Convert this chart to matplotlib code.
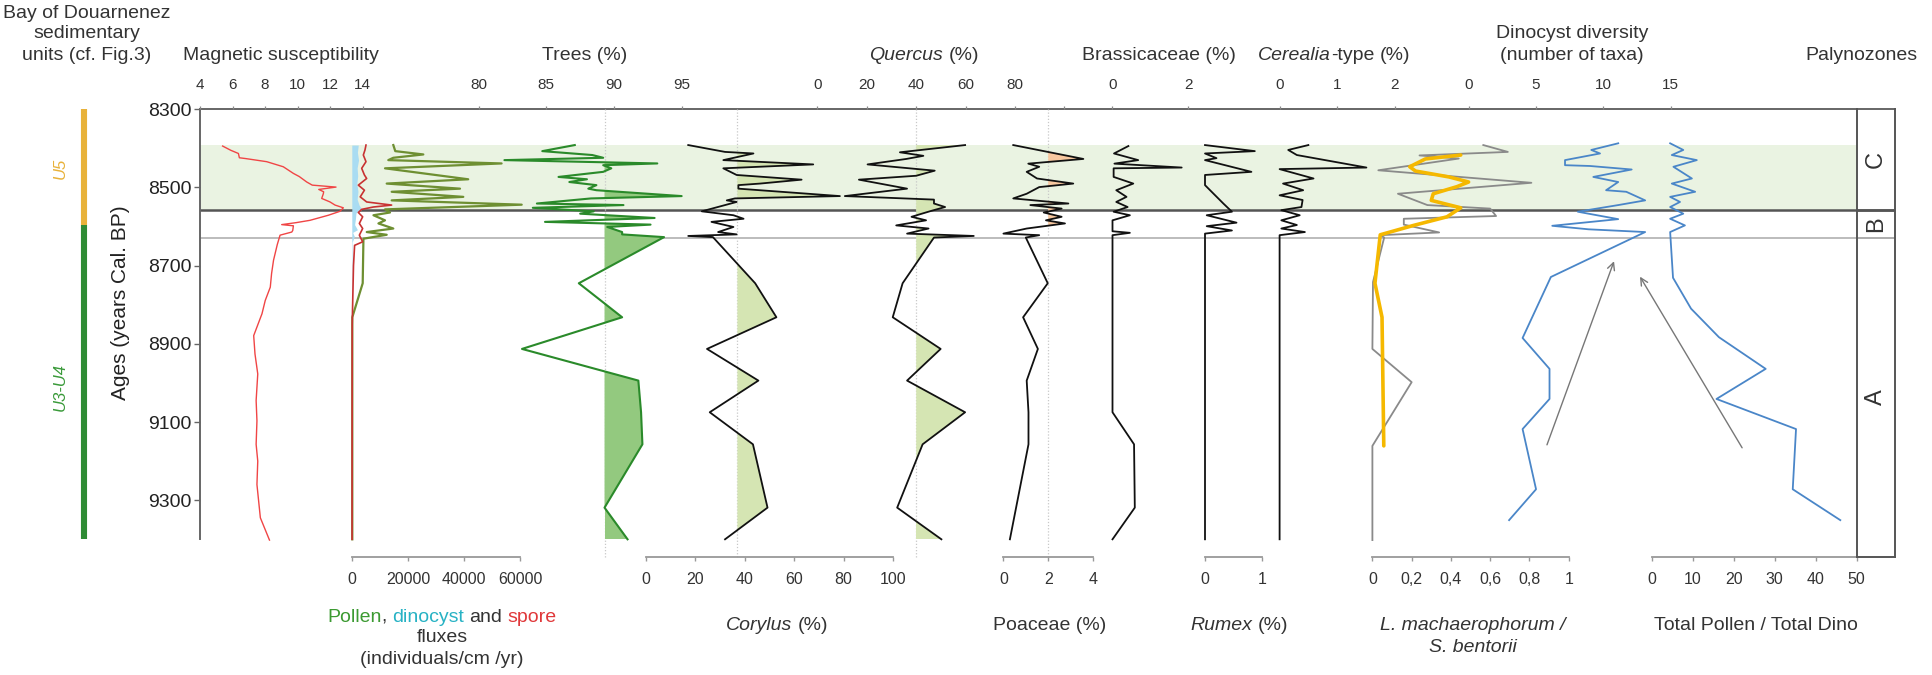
import matplotlib
matplotlib.use("Agg")
import matplotlib.pyplot as plt
from matplotlib import font_manager as fm

# ======================= DATA =======================
AGE_MIN, AGE_MAX = 8300, 9400
age_ticks = [8300, 8500, 8700, 8900, 9100, 9300]
zone_top, zone_CB, zone_BA = 8391, 8558, 8628          # palynozone limits
palynozones = ["C", "B", "A"]
unit_names = ["U5", "U3-U4"]
unit_limits = [8300, 8597, 9400]

mag_age = [8394, 8405, 8413, 8424, 8426, 8434, 8447, 8464, 8472, 8486, 8494, 8499, 8505, 8511, 8516,
           8528, 8537, 8545, 8552, 8561, 8571, 8584, 8590, 8595, 8598, 8610, 8614, 8622, 8646, 8686,
           8720, 8755, 8789, 8823, 8857, 8879, 8926, 8977, 9045, 9097, 9157, 9200, 9260, 9345, 9402]
mag_val = [5.39, 5.9, 6.36, 6.42, 6.8, 8.1, 9.12, 9.74, 10.1, 10.56, 10.9, 12.36, 11.3, 11.6, 11.58,
           11.48, 11.99, 12.3, 12.81, 12.6, 11.89, 10.76, 9.9, 9.02, 9.74, 9.7, 9.64, 8.92, 8.75, 8.52,
           8.40, 8.32, 8.01, 7.81, 7.5, 7.30, 7.38, 7.55, 7.45, 7.5, 7.45, 7.55, 7.5, 7.71, 8.27]

pol_flux_age = [8391.5, 8407, 8415.5, 8424, 8430, 8438.5, 8451, 8479, 8490, 8503, 8511, 8524, 8533,
                8544, 8556, 8564, 8571, 8584, 8592, 8605, 8614, 8621, 8631, 8745, 8832, 9400]
pol_flux = [14800, 15500, 25500, 14800, 13000, 53400, 11840, 41500, 12440, 38570, 14220, 39750, 14220,
            60570, 11840, 13620, 7710, 11840, 9490, 14800, 5330, 12440, 4150, 3886, 180, 180]
spore_age = [8391.5, 8404, 8417, 8434, 8451, 8468, 8477, 8494, 8507, 8524, 8537, 8545, 8550, 8556,
             8564, 8575, 8592, 8605, 8622, 8639, 8648, 8700, 8850, 9400]
spore_flux = [5060, 4700, 4110, 5060, 3520, 4500, 5300, 2330, 4500, 3000, 5300, 14200, 7650, 3520,
              2330, 3870, 2690, 3870, 2690, 3870, 1000, 600, 150, 100]
dino_flux_age = [8391.5, 8410, 8430, 8450, 8470, 8490, 8510, 8530, 8545, 8556, 8565, 8580, 8595,
                 8608, 8615, 8625, 8640, 9400]
dino_flux = [2300, 2000, 2400, 1900, 2100, 1800, 2200, 1900, 2600, 3600, 1500, 1300, 1000,
             2000, 300, 900, 150, 100]

trees_age = [8391.5, 8407, 8417, 8424, 8430, 8438.5, 8443, 8451, 8460, 8473, 8479, 8486, 8494, 8503,
             8507, 8522, 8528, 8541, 8545, 8552, 8561, 8567, 8578, 8588, 8595, 8601, 8614, 8620,
             8627, 8745, 8832, 8913, 8994, 9075, 9157, 9319, 9400]
trees = [87.1, 84.7, 88.4, 89.2, 81.9, 93.2, 89.2, 89.8, 89.2, 85.9, 88.0, 86.7, 88.7, 88.1,
         88.7, 95.0, 88.3, 84.3, 90.7, 84.0, 88.5, 87.5, 93.0, 84.9, 92.7, 89.5, 90.6, 90.6,
         93.7, 87.4, 90.6, 83.2, 91.8, 92.0, 92.1, 89.3, 91.0]
trees_base = 89.3

corylus_age = [8391.5, 8409, 8413, 8430, 8441, 8451, 8468, 8480, 8490, 8494, 8503, 8522, 8528, 8533,
               8537, 8561, 8571, 8580, 8588, 8601, 8614, 8620, 8624, 8627, 8745, 8832, 8913, 8994,
               9075, 9157, 9319, 9400]
corylus = [17.1, 32.0, 43.5, 31.3, 67.7, 31.3, 36.7, 63.0, 46.2, 37.4, 37.4, 78.5, 36.0, 32.7,
           36.7, 22.6, 35.4, 39.5, 26.5, 35.4, 29.2, 36.7, 17.1, 27.1, 44.2, 52.8, 24.7, 45.5,
           25.8, 43.3, 49.2, 32.0]
corylus_base = 37

quercus_age = [8391.5, 8410, 8419, 8427, 8441, 8457, 8470, 8480, 8503, 8522, 8531, 8541, 8550, 8560,
               8575, 8584, 8597, 8605, 8618, 8624, 8628, 8745, 8832, 8913, 8994, 9075, 9157, 9319, 9400]
quercus = [59.8, 33.4, 42.9, 36.0, 20.3, 47.5, 40.0, 16.8, 36.3, 11.1, 47.2, 47.2, 51.7, 46.0,
           38.1, 44.0, 31.9, 45.0, 36.3, 63.3, 47.2, 34.5, 30.5, 49.9, 36.3, 59.8, 42.6, 32.3, 50.2]
quercus_base = 40

poaceae_age = [8391.5, 8427, 8439, 8447, 8460, 8477, 8490, 8499, 8516, 8528, 8541, 8545, 8554, 8564,
               8575, 8584, 8592, 8605, 8618, 8622, 8628, 8745, 8832, 8913, 8994, 9075, 9157, 9400]
poaceae = [0.44, 3.57, 1.11, 1.6, 1.04, 1.5, 3.12, 1.6, 1.04, 0.44, 2.9, 1.2, 2.6, 1.8,
           2.6, 1.9, 2.75, 1.04, 0.0, 1.6, 1.0, 1.98, 0.88, 1.54, 1.04, 1.12, 1.12, 0.29]
poaceae_base = 2

brass_age = [8394, 8413, 8430, 8439, 8449, 8451, 8473, 8490, 8507, 8524, 8537, 8550, 8562, 8571,
             8584, 8612, 8616, 8622, 9075, 9157, 9319, 9400]
brass = [0.42, 0.04, 0.68, 0.05, 1.83, 0.03, 0.03, 0.55, 0.1, 0.37, 0.1, 0.4, 0.03, 0.46,
         0.0, 0.0, 0.46, 0.0, 0.0, 0.57, 0.59, 0.0]

rumex_age = [8391.5, 8407, 8413, 8425, 8430, 8460, 8468, 8494, 8541, 8562, 8571, 8590, 8599, 8610, 8618, 9400]
rumex = [0.0, 0.87, 0.0, 0.2, 0.0, 0.81, 0.0, 0.0, 0.32, 0.47, 0.03, 0.55, 0.03, 0.47, 0.0, 0.0]

cereal_age = [8391.5, 8404, 8417, 8449, 8453, 8477, 8490, 8507, 8520, 8532, 8550, 8558, 8571, 8584,
              8596, 8605, 8614, 8622, 9400]
cereal = [0.5, 0.15, 0.3, 1.51, 0.0, 0.59, 0.06, 0.41, 0.0, 0.4, 0.38, 0.03, 0.35, 0.03,
          0.3, 0.03, 0.44, 0.0, 0.0]

lm_age = [8391.5, 8409, 8418, 8426, 8456, 8488, 8516, 8545, 8554, 8573, 8580, 8595, 8615, 8622,
          8628, 8742, 8913, 8998, 9161, 9402]
lm_ratio = [0.565, 0.69, 0.24, 0.44, 0.03, 0.81, 0.13, 0.28, 0.6, 0.63, 0.16, 0.16, 0.34, 0.04,
            0.06, 0.003, 0.0, 0.2, 0.0, 0.0]
lm_smooth_age = [8417, 8427, 8447, 8458, 8473, 8486, 8498, 8516, 8533, 8552, 8575, 8597, 8621, 8745, 8832, 9161]
lm_smooth = [0.45, 0.27, 0.19, 0.22, 0.39, 0.49, 0.43, 0.31, 0.3, 0.45, 0.38, 0.21, 0.04, 0.013, 0.049, 0.058]

div_age = [8387, 8404, 8413, 8430, 8443, 8445, 8454, 8473, 8486, 8507, 8511, 8533, 8545, 8562, 8581,
           8598, 8607, 8614, 8729, 8885, 8964, 9041, 9118, 9272, 9351]
div_taxa = [11.1, 9.1, 9.75, 7.15, 7.15, 9.0, 12.1, 9.25, 11.1, 10.2, 11.7, 13.1, 11.1, 8.1, 11.1,
            6.2, 8.9, 13.1, 6.1, 4.0, 6.0, 6.0, 4.0, 5.0, 3.0]

tp_age = [8387, 8404, 8417, 8430, 8447, 8477, 8490, 8511, 8524, 8537, 8550, 8567, 8580, 8597, 8614,
          8731, 8810, 8883, 8964, 9041, 9118, 9272, 9351]
tp_ratio = [4.5, 7.7, 4.9, 11.0, 5.3, 9.8, 4.9, 10.6, 4.5, 6.9, 4.5, 7.7, 4.5, 8.1, 4.5,
            5.2, 9.6, 16.4, 27.8, 15.8, 35.2, 34.4, 46.0]

# annotation arrows (value, age) start -> end
arrow_div = [(5.74, 9165), (10.86, 8682)]
arrow_tp = [(22.4, 9172), (-3.2, 8722)]

# tick labels
mag_ticks = [4, 6, 8, 10, 12, 14]
trees_ticks = [80, 85, 90, 95]
quercus_ticks = [0, 20, 40, 60, 80, 100]
quercus_labels = ["0", "20", "40", "60", "80", ""]
brass_ticks = [0, 2]
cereal_ticks = [0, 1, 2]
div_ticks = [0, 5, 10, 15]
flux_ticks = [0, 20000, 40000, 60000]
corylus_ticks = [0, 20, 40, 60, 80, 100]
poaceae_ticks = [0, 2, 4]
rumex_ticks = [0, 1]
lm_ticks = [0, 0.2, 0.4, 0.6, 0.8, 1.0]
lm_labels = ["0", "0,2", "0,4", "0,6", "0,8", "1"]
tp_ticks = [0, 10, 20, 30, 40, 50]

# ======================= LAYOUT =======================
W, H, DPI = 1933, 675, 100
Y_TOP, Y_BOT = 109.3, 539.3
Y_BAX = 556.7
PPY = (Y_BOT - Y_TOP) / (AGE_MAX - AGE_MIN)


def font_ok(name):
    try:
        fm.findfont(fm.FontProperties(family=name), fallback_to_default=False)
        return True
    except Exception:
        return False


SANS = "Liberation Sans" if font_ok("Liberation Sans") else "DejaVu Sans"
NARROW = "Liberation Sans Narrow" if font_ok("Liberation Sans Narrow") else SANS
plt.rcParams["font.family"] = [SANS, "DejaVu Sans"]
TXT = "#333333"
TOP_FS = 12 if NARROW != SANS else 11
BOT_FS = 13 if NARROW != SANS else 11.5

fig = plt.figure(figsize=(W / DPI, H / DPI), dpi=DPI)
R = fig.canvas.get_renderer()


def px_axes(x0, x1, y0, y1):
    ax = fig.add_axes([x0 / W, 1 - y1 / H, (x1 - x0) / W, (y1 - y0) / H])
    ax.patch.set_alpha(0)
    return ax


def age_at(py):
    return AGE_MIN + (py - Y_TOP) / PPY


# frame / age axis
axf = px_axes(200, 1895, Y_TOP, Y_BOT)
axf.set_xlim(0, 1)
axf.set_ylim(AGE_MAX, AGE_MIN)
axf.spines["right"].set_visible(False)
axf.spines["bottom"].set_visible(False)
for k in ["top", "left"]:
    axf.spines[k].set_color("#666666")
    axf.spines[k].set_linewidth(1.4)
axf.set_xticks([])
axf.set_yticks(age_ticks)
axf.set_yticklabels([str(a) for a in age_ticks], fontsize=14, color="#222222")
axf.tick_params(axis="y", direction="out", length=4, width=1, color="#666666", pad=2)
band_xmax = (1857 - 200) / (1895 - 200)
axf.axhspan(zone_top, zone_CB, xmin=0, xmax=band_xmax, color="#eaf3e2", lw=0, zorder=0)
axf.axhline(zone_CB, color="#555555", lw=1.8)
axf.axhline(zone_BA, color="#aaaaaa", lw=1.1)


def panel(a, b, x0, x1):
    ax = px_axes(x0, x1, Y_TOP, Y_BOT)
    ax.set_xlim((x0 - a) / b, (x1 - a) / b)
    ax.set_ylim(AGE_MAX, AGE_MIN)
    for s in ax.spines.values():
        s.set_visible(False)
    ax.set_xticks([])
    ax.set_yticks([])
    return ax


def top_axis(ax, ticks, labels=None):
    ax.xaxis.tick_top()
    ax.set_xticks(ticks)
    ax.set_xticklabels(labels if labels is not None else [str(t) for t in ticks],
                       fontfamily=NARROW, fontsize=TOP_FS, color=TXT)
    ax.tick_params(axis="x", top=True, bottom=False, labeltop=True, labelbottom=False,
                   direction="out", length=2.5, width=0.9, color="#888888", pad=10)


def bottom_axis(a, b, ticks, labels=None):
    x0, x1 = a + b * ticks[0], a + b * ticks[-1]
    ax = px_axes(x0, x1, Y_BAX - 0.5, Y_BAX + 0.5)
    ax.set_xlim(ticks[0], ticks[-1])
    for k in ["top", "left", "right"]:
        ax.spines[k].set_visible(False)
    ax.spines["bottom"].set_color("#999999")
    ax.spines["bottom"].set_linewidth(1.3)
    ax.set_yticks([])
    ax.set_xticks(ticks)
    ax.set_xticklabels(labels if labels is not None else [str(t) for t in ticks],
                       fontfamily=NARROW, fontsize=BOT_FS, color=TXT)
    ax.tick_params(axis="x", direction="out", length=3, width=1, color="#999999", pad=8)
    return ax


def baseline(ax, v):
    ax.axvline(v, ymin=-(Y_BAX - Y_BOT) / (Y_BOT - Y_TOP), ymax=1, color="#c8c8c8",
               ls=(0, (1, 1.5)), lw=0.9, clip_on=False, zorder=0)


LW = 1.3
# magnetic susceptibility
ax_mag = panel(200 - 4 * 16.27, 16.27, 195, 400)
ax_mag.plot(mag_val, mag_age, color="#f04545", lw=1.0, clip_on=False)
top_axis(ax_mag, mag_ticks)

# fluxes
FA, FB = 351.8, 56.1 / 20000
ax_flux = panel(FA, FB, 340, 540)
ax_flux.fill_betweenx(dino_flux_age, 0, dino_flux, color="#a9dcf2", lw=0, clip_on=False)
ax_flux.plot(pol_flux, pol_flux_age, color="#6e8f32", lw=1.6, clip_on=False)
ax_flux.plot(spore_flux, spore_age, color="#c83232", lw=1.2, clip_on=False)
bottom_axis(FA, FB, flux_ticks)

# trees
TA, TB = 478.7 - 80 * 13.53, 13.53
ax_tr = panel(TA, TB, 470, 700)
baseline(ax_tr, trees_base)
ax_tr.fill_betweenx(trees_age, trees_base, trees, where=[v > trees_base for v in trees],
                    interpolate=True, color="#93c97f", lw=0)
ax_tr.plot(trees, trees_age, color="#2a8a2a", lw=1.5, clip_on=False)
top_axis(ax_tr, trees_ticks)

# corylus
CA, CB = 646, 2.47
ax_co = panel(CA, CB, 640, 900)
baseline(ax_co, corylus_base)
ax_co.fill_betweenx(corylus_age, corylus_base, corylus, where=[v > corylus_base for v in corylus],
                    interpolate=True, color="#d5e5b3", lw=0)
ax_co.plot(corylus, corylus_age, color="#111111", lw=LW, clip_on=False)
bottom_axis(CA, CB, corylus_ticks)

# quercus
QA, QB = 817.4, 2.47
ax_qu = panel(QA, QB, 810, 1070)
baseline(ax_qu, quercus_base)
ax_qu.fill_betweenx(quercus_age, quercus_base, quercus, where=[v > quercus_base for v in quercus],
                    interpolate=True, color="#d5e5b3", lw=0)
ax_qu.plot(quercus, quercus_age, color="#111111", lw=LW, clip_on=False)
top_axis(ax_qu, quercus_ticks, quercus_labels)

# poaceae
PA, PB = 1003.4, 22.4
ax_po = panel(PA, PB, 1000, 1100)
baseline(ax_po, poaceae_base)
ax_po.fill_betweenx(poaceae_age, poaceae_base, poaceae, where=[v > poaceae_base for v in poaceae],
                    interpolate=True, color="#f8c8a0", lw=0)
ax_po.plot(poaceae, poaceae_age, color="#111111", lw=LW, clip_on=False)
bottom_axis(PA, PB, poaceae_ticks)

# brassicaceae
BA_, BB_ = 1112.5, 37.8
ax_br = panel(BA_, BB_, 1100, 1200)
ax_br.plot(brass, brass_age, color="#111111", lw=LW, clip_on=False)
top_axis(ax_br, brass_ticks)

# rumex
RA, RB = 1205, 57.3
ax_ru = panel(RA, RB, 1200, 1270)
ax_ru.plot(rumex, rumex_age, color="#111111", lw=LW, clip_on=False)
bottom_axis(RA, RB, rumex_ticks)

# cerealia
EA, EB = 1279.6, 57.5
ax_ce = panel(EA, EB, 1270, 1400)
ax_ce.plot(cereal, cereal_age, color="#111111", lw=LW, clip_on=False)
top_axis(ax_ce, cereal_ticks)

# L. machaerophorum / S. bentorii
LA, LB = 1372.4, 196.3
ax_lm = panel(LA, LB, 1370, 1580)
ax_lm.plot(lm_ratio, lm_age, color="#8a8a8a", lw=1.3, clip_on=False)
ax_lm.plot(lm_smooth, lm_smooth_age, color="#f5b800", lw=2.6, clip_on=False,
           solid_joinstyle="round", solid_capstyle="round")
bottom_axis(LA, LB, lm_ticks, lm_labels)

# dinocyst diversity
DA, DB = 1468.7, 13.47
ax_dd = panel(DA, DB, 1460, 1700)
ax_dd.plot(div_taxa, div_age, color="#4a86c8", lw=1.3, clip_on=False)
top_axis(ax_dd, div_ticks)
ax_dd.annotate("", xy=arrow_div[1], xytext=arrow_div[0], annotation_clip=False,
               arrowprops=dict(arrowstyle="->", color="#777777", lw=1.0, mutation_scale=13))

# total pollen / total dino
PTA, PTB = 1651.7, 4.1
ax_tp = panel(PTA, PTB, 1620, 1857)
ax_tp.plot(tp_ratio, tp_age, color="#4a86c8", lw=1.3, clip_on=False)
bottom_axis(PTA, PTB, tp_ticks)
ax_tp.annotate("", xy=arrow_tp[1], xytext=arrow_tp[0], annotation_clip=False,
               arrowprops=dict(arrowstyle="->", color="#777777", lw=1.0, mutation_scale=13))

# palynozone box
axz = px_axes(1857, 1895, Y_TOP, Y_BAX)
axz.set_xlim(0, 1)
axz.set_ylim(age_at(Y_BAX), AGE_MIN)
axz.spines["top"].set_visible(False)
for k in ["left", "right", "bottom"]:
    axz.spines[k].set_color("#555555")
    axz.spines[k].set_linewidth(1.4)
axz.set_xticks([])
axz.set_yticks([])
axz.axhline(zone_CB, color="#555555", lw=1.8)
axz.axhline(zone_BA, color="#aaaaaa", lw=1.1)
bounds = [AGE_MIN, zone_CB, zone_BA, age_at(Y_BAX)]
for i, lab in enumerate(palynozones):
    axz.text(0.5, (bounds[i] + bounds[i + 1]) / 2, lab, rotation=90, ha="center", va="center",
             fontsize=17, color=TXT)

# sedimentary units
axu = px_axes(60, 100, Y_TOP, Y_BOT)
axu.set_xlim(0, 1)
axu.set_ylim(AGE_MAX, AGE_MIN)
axu.axis("off")
unit_colors = ["#e8b23a", "#2e8b34"]
label_colors = ["#e8b23a", "#3a9a3a"]
for i, name in enumerate(unit_names):
    axu.plot([0.6, 0.6], [unit_limits[i], unit_limits[i + 1]], color=unit_colors[i], lw=4.4,
             solid_capstyle="butt", clip_on=False)
axu.text(0.0, 8451, unit_names[0], rotation=90, ha="center", va="center", fontsize=12,
         style="italic", color=label_colors[0])
axu.text(0.0, 9011, unit_names[1], rotation=90, ha="center", va="center", fontsize=12,
         style="italic", color=label_colors[1])


# ---------------- text helpers ----------------
def ftext(x, y, s, **kw):
    kw.setdefault("color", TXT)
    kw.setdefault("fontsize", 14)
    kw.setdefault("ha", "center")
    kw.setdefault("va", "center")
    return fig.text(x / W, 1 - y / H, s, **kw)


def adv(s, **props):
    t1 = fig.text(0, 0, "X" + s + "X", **props)
    t0 = fig.text(0, 0, "XX", **props)
    w = t1.get_window_extent(R).width - t0.get_window_extent(R).width
    t1.remove()
    t0.remove()
    return w


def rich(xc, y, pieces, fontsize=14):
    widths = []
    for s, style, color in pieces:
        widths.append(adv(s, fontsize=fontsize, style=style))
    x = xc - sum(widths) / 2
    for (s, style, color), w in zip(pieces, widths):
        if s.strip():
            fig.text(x / W, 1 - y / H, s, fontsize=fontsize, style=style, color=color,
                     ha="left", va="center")
        x += w


# header
ftext(87, 14, "Bay of Douarnenez")
ftext(87, 34, "sedimentary")
ftext(87, 55, "units (cf. Fig.3)")
ftext(281, 55, "Magnetic susceptibility")
ftext(585, 55, "Trees (%)")
rich(924, 55, [("Quercus", "italic", TXT), (" ", "normal", TXT), ("(%)", "normal", TXT)])
ftext(1159, 55, "Brassicaceae (%)")
rich(1334, 55, [("Cerealia", "italic", TXT), ("-type", "normal", TXT), (" ", "normal", TXT),
                ("(%)", "normal", TXT)])
ftext(1572, 33, "Dinocyst diversity")
ftext(1572, 55, "(number of taxa)")
ftext(1861, 55, "Palynozones")
ftext(120, 303, "Ages (years Cal. BP)", rotation=90, fontsize=15, color="#222222")

# bottom titles
rich(442, 617, [("Pollen", "normal", "#3c9a32"), (",", "normal", TXT), (" ", "normal", TXT),
                ("dinocyst", "normal", "#27b2c4"), (" ", "normal", TXT), ("and", "normal", TXT),
                (" ", "normal", TXT), ("spore", "normal", "#e0383a")])
ftext(442, 638, "fluxes")
ftext(442, 660, "(individuals/cm /yr)")
rich(777, 625, [("Corylus", "italic", TXT), (" ", "normal", TXT), ("(%)", "normal", TXT)])
ftext(1050, 625, "Poaceae (%)")
rich(1239, 625, [("Rumex", "italic", TXT), (" ", "normal", TXT), ("(%)", "normal", TXT)])
ftext(1473, 625, "L. machaerophorum /", style="italic")
ftext(1473, 647, "S. bentorii", style="italic")
ftext(1756, 625, "Total Pollen / Total Dino")

fig.savefig("out.png", dpi=DPI)
